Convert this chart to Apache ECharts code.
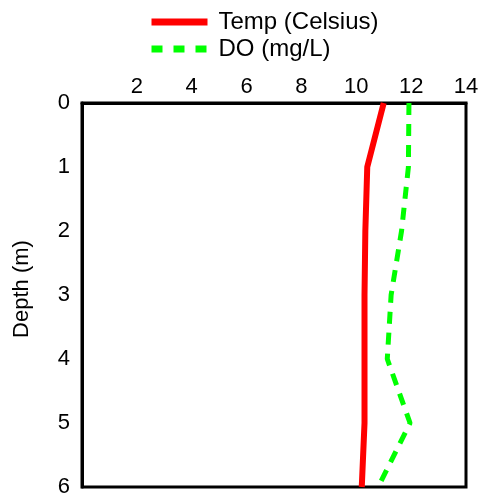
<!DOCTYPE html>
<html><head><meta charset="utf-8">
<script src="https://cdn.jsdelivr.net/npm/echarts@6/dist/echarts.min.js"></script>
<style>html,body{margin:0;padding:0;background:#fff}#c{width:479px;height:493px}</style>
</head><body><div id="c"></div>
<script>
const depths = [0, 1, 2, 3, 4, 5, 6];
const tempC = [11.0, 10.4, 10.33, 10.3, 10.3, 10.3, 10.2];
const doMgL = [11.92, 11.9, 11.65, 11.27, 11.13, 11.96, 10.8];
const xTicks = [0, 2, 4, 6, 8, 10, 12, 14];
const yTicks = [0, 1, 2, 3, 4, 5, 6];
const seriesNames = ['Temp (Celsius)', 'DO (mg/L)'];

const chart = echarts.init(document.getElementById('c'), null, {renderer: 'canvas'});
const font = 'Liberation Sans, Arial, sans-serif';
chart.setOption({
  animation: false,
  backgroundColor: '#fff',
  textStyle: {fontFamily: font},
  legend: {
    orient: 'vertical', left: 143, top: 5, itemGap: 3,
    itemWidth: 56, itemHeight: 24,
    textStyle: {fontSize: 24, color: '#000', fontFamily: font, padding: [0, 0, 0, 6]},
    data: [
      {name: seriesNames[0], itemStyle: {opacity: 0}, lineStyle: {color: '#ff0000', width: 7}},
      {name: seriesNames[1], itemStyle: {opacity: 0}, lineStyle: {color: '#00ff00', width: 7, type: [11, 11]}}
    ]
  },
  grid: {left: 82, top: 103, right: 13, bottom: 6, show: true, borderColor: '#000', borderWidth: 3,
         backgroundColor: 'transparent', containLabel: false, outerBoundsMode: 'none'},
  xAxis: {
    type: 'value', position: 'top', min: xTicks[0], max: xTicks[xTicks.length-1], interval: 2,
    axisLine: {show: true, lineStyle: {color: '#000', width: 3}},
    axisTick: {show: false}, splitLine: {show: false},
    axisLabel: {fontSize: 22, color: '#000', fontFamily: font, margin: 5,
      formatter: v => v === 0 ? '' : String(v)}
  },
  yAxis: {
    type: 'value', inverse: true, min: yTicks[0], max: yTicks[yTicks.length-1], interval: 1,
    name: 'Depth (m)', nameLocation: 'middle', nameGap: 49, nameRotate: 90,
    nameTextStyle: {fontSize: 22, color: '#000', fontFamily: font, padding: [0, 0, 0, 12]},
    axisLine: {show: true, lineStyle: {color: '#000', width: 3}},
    axisTick: {show: false}, splitLine: {show: false},
    axisLabel: {fontSize: 22, color: '#000', fontFamily: font, margin: 12}
  },
  series: [
    {name: seriesNames[0], type: 'line', symbol: 'none',
     data: depths.map((d, i) => [tempC[i], d]),
     lineStyle: {color: '#ff0000', width: 6}, itemStyle: {color: '#ff0000'}},
    {name: seriesNames[1], type: 'line', symbol: 'none',
     data: depths.map((d, i) => [doMgL[i], d]),
     lineStyle: {color: '#00ff00', width: 5, type: [12, 9]}, itemStyle: {color: '#00ff00'}}
  ]
});
</script></body></html>
